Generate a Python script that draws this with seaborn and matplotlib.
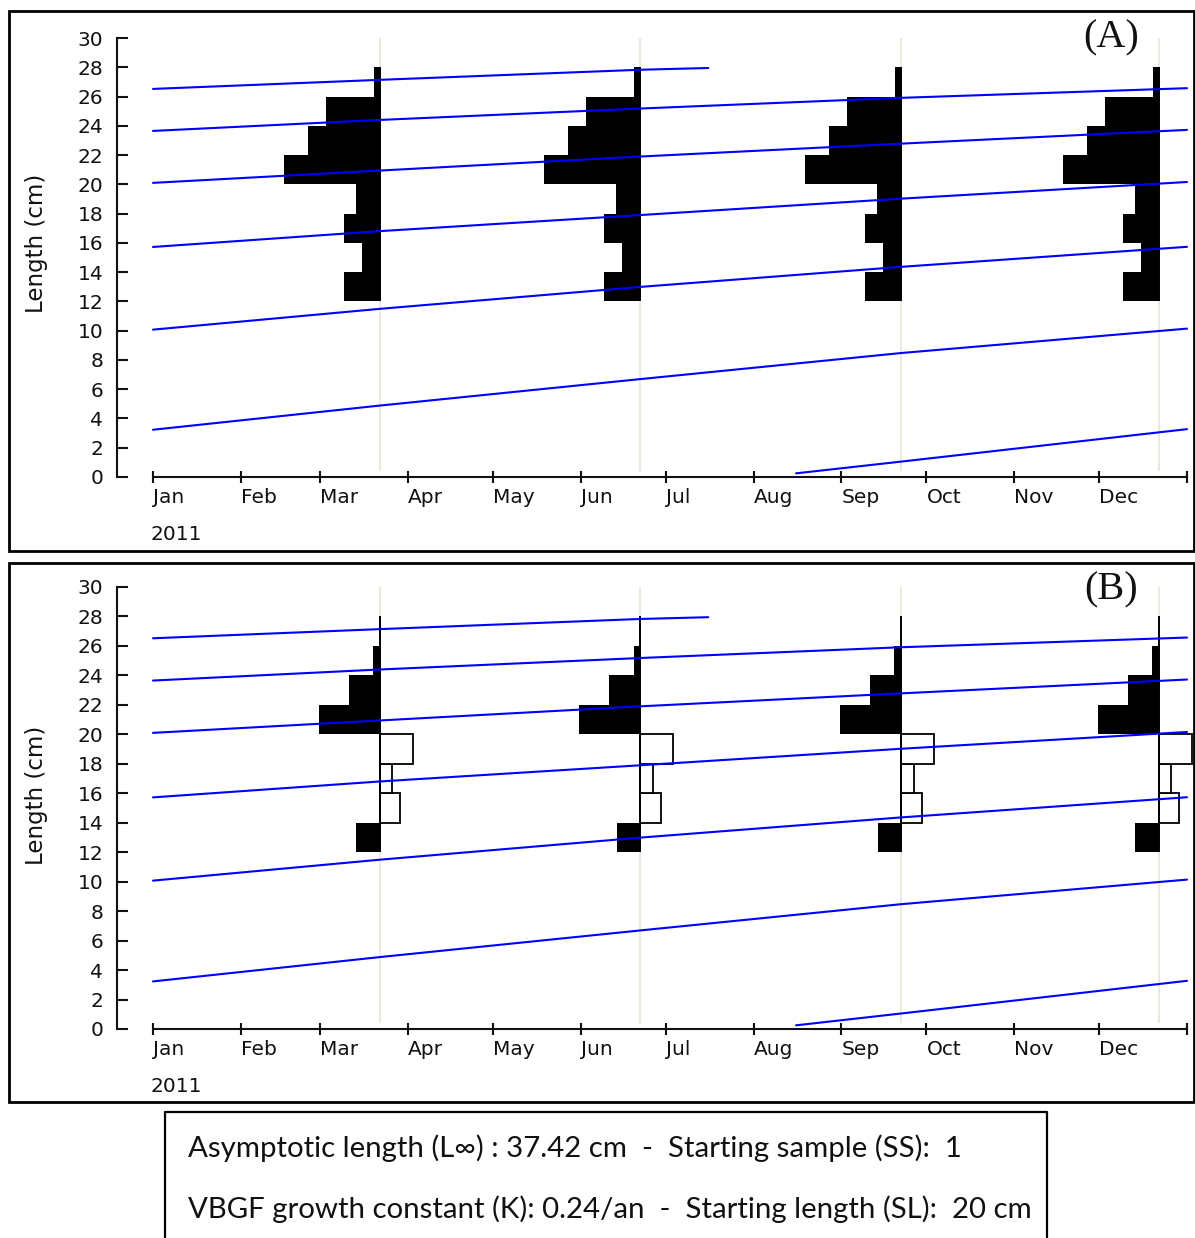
import numpy as np
import pandas as pd
import matplotlib
matplotlib.use("Agg")
import matplotlib.pyplot as plt
import seaborn as sns
from matplotlib.patches import Rectangle
from matplotlib.lines import Line2D

sns.set_style("white")
plt.rcParams["font.family"] = ["DejaVu Sans"]

# ---------------- data ----------------
year_start = "2011-01-01"
month_labels = ["Jan", "Feb", "Mar", "Apr", "May", "Jun",
                "Jul", "Aug", "Sep", "Oct", "Nov", "Dec"]
sample_dates = ["2011-03-22", "2011-06-22", "2011-09-22", "2011-12-22"]
y_ticks = list(range(0, 31, 2))

bin_lower = [12, 14, 16, 18, 20, 22, 24, 26]          # cm, 2-cm classes
counts_A = [6, 3, 6, 4, 16, 12, 9, 1]                  # raw frequencies (same each sample)
scores_B = [0.38, -0.34, -0.21, -0.54, 1.0, 0.51, 0.11, 0.0]  # restructured scores

# growth curves (day of year, length cm)
curve1_days = [0, 80, 172, 196]
curve1_len = [26.52, 27.14, 27.83, 27.95]
curve2_days = [0, 80, 172, 264, 365]
curve2_len = [23.65, 24.40, 25.18, 25.91, 26.57]
curve3_days = [0, 80, 172, 264, 365]
curve3_len = [20.10, 20.94, 21.90, 22.78, 23.72]
curve4_days = [0, 80, 172, 264, 365]
curve4_len = [15.72, 16.80, 17.90, 19.02, 20.16]
curve5_days = [0, 80, 172, 264, 365]
curve5_len = [10.07, 11.49, 12.99, 14.36, 15.73]
curve6_days = [0, 80, 172, 264, 365]
curve6_len = [3.23, 4.88, 6.69, 8.47, 10.14]
curve7_days = [227, 264, 365]
curve7_len = [0.25, 1.05, 3.27]

info_line1 = "Asymptotic length (L\u221e) : 37.42 cm  -  Starting sample (SS):  1"
info_line2 = "VBGF growth constant (K): 0.24/an  -  Starting length (SL):  20 cm"

# ---------------- derived ----------------
t0 = pd.Timestamp(year_start)
month_starts = pd.date_range(year_start, "2012-01-01", freq="MS")
month_days = [(d - t0).days for d in month_starts]
sample_days = [(pd.Timestamp(d) - t0).days for d in sample_dates]

curves = [(curve1_days, curve1_len), (curve2_days, curve2_len), (curve3_days, curve3_len),
          (curve4_days, curve4_len), (curve5_days, curve5_len), (curve6_days, curve6_len),
          (curve7_days, curve7_len)]
rows = []
for i, (dd, ll) in enumerate(curves):
    for d, l in zip(dd, ll):
        rows.append({"cohort": i, "day": d, "length": l})
curve_df = pd.DataFrame(rows)

W, H = 1195, 1238
fig = plt.figure(figsize=(W / 100, H / 100), dpi=100)

px_per_day = (1187 - 153) / 365.0
ax_left_px, ax_right_px, day0_px = 117, 1195, 153
xlim = ((ax_left_px - day0_px) / px_per_day, (ax_right_px - day0_px) / px_per_day)

count_scale = 6 / px_per_day      # days per count (panel A)
score_scale = 61 / px_per_day     # days per score unit (panel B)

FS = 14.5
BEIGE = "#ebe7d9"
INK = "#111111"


def make_panel(top_px, bottom_px, values, scale, label, label_y, year_y, ylab_y):
    ax = fig.add_axes([ax_left_px / W, 1 - bottom_px / H,
                       (ax_right_px - ax_left_px) / W, (bottom_px - top_px) / H])
    ax.set_xlim(*xlim)
    ax.set_ylim(0, 30)
    ax.patch.set_alpha(0)
    # sample date guide lines
    ax.vlines(sample_days, 0.4, 30, color=BEIGE, lw=1.3, zorder=1)
    # histograms
    for sd in sample_days:
        for b, v in zip(bin_lower, values):
            w = -v * scale
            if v >= 0:
                ax.barh(b, w, left=sd, height=2, align="edge", color="black",
                        lw=0, zorder=2)
            else:
                ax.barh(b, w, left=sd, height=2, align="edge", color="white",
                        edgecolor="black", lw=1.3, zorder=2)
    ax.vlines(sample_days, 12, 28, color="black", lw=1.4, zorder=2.5)
    # growth curves
    sns.lineplot(data=curve_df, x="day", y="length", units="cohort", estimator=None,
                 color="blue", lw=1.5, ax=ax, legend=False, sort=False, zorder=3)
    ax.set_xlabel("")
    ax.set_ylabel("")
    # axes styling
    for s in ["top", "right"]:
        ax.spines[s].set_visible(False)
    for s in ["left", "bottom"]:
        ax.spines[s].set_linewidth(1.5)
        ax.spines[s].set_color(INK)
    ax.spines["left"].set_bounds(0, 30)
    ax.spines["bottom"].set_bounds(0, 365)
    ax.set_yticks(y_ticks)
    ax.set_yticklabels([str(t) for t in y_ticks])
    ax.set_xticks(month_days)
    ax.set_xticklabels(month_labels + [""])
    for lab in ax.get_xticklabels():
        lab.set_ha("left")
    ax.tick_params(axis="y", direction="in", length=8, width=1.5, pad=10,
                   labelsize=FS, colors=INK, left=True)
    ax.tick_params(axis="x", direction="inout", length=8, width=1.5, pad=4,
                   labelsize=FS, colors=INK, bottom=True)
    ax.grid(False)
    fig.text(151 / W, 1 - year_y / H, "2011", ha="left", va="center", fontsize=FS,
             color=INK)
    fig.text(36 / W, 1 - ylab_y / H, "Length (cm)", rotation=90, ha="center",
             va="center", fontsize=16.5, color=INK)
    fig.text(1111 / W, 1 - label_y / H, label, ha="center", va="center",
             fontsize=29, family=["Liberation Serif", "DejaVu Serif"], color=INK)
    return ax


axA = make_panel(38, 477, counts_A, count_scale, "(A)", 38, 535, 243)
axB = make_panel(587, 1029, scores_B, score_scale, "(B)", 590, 1087, 795)

# panel frames
for top, bot in [(11, 551), (563, 1102)]:
    fig.add_artist(Rectangle((9 / W, 1 - bot / H), (1194 - 9) / W, (bot - top) / H,
                             transform=fig.transFigure, fill=False, lw=2.0,
                             ec="black"))

# info box (bottom edge cropped)
bx0, bx1, by0 = 165, 1047, 1112
fig.add_artist(Line2D([bx0 / W, bx0 / W, bx1 / W, bx1 / W],
                      [0, 1 - by0 / H, 1 - by0 / H, 0],
                      transform=fig.transFigure, color="black", lw=1.6))

fam = ["Lato", "Liberation Sans", "DejaVu Sans"]
t1 = fig.text(188 / W, 1 - 1148 / H, info_line1, ha="left", va="center",
              fontsize=20, family=fam, color=INK)
t2 = fig.text(188 / W, 1 - 1209 / H, info_line2, ha="left", va="center",
              fontsize=20, family=fam, color=INK)
fig.canvas.draw()
w2 = t2.get_window_extent().width
fs = 20 * 842 / w2
t1.set_fontsize(fs)
t2.set_fontsize(fs)

fig.savefig("out.png", dpi=100)
